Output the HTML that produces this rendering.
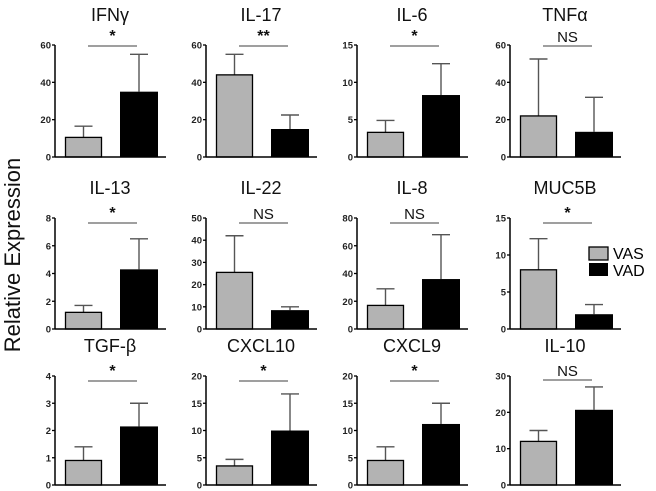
<!DOCTYPE html>
<html><head><meta charset="utf-8"><style>
body{margin:0;background:#fff}
svg{display:block;font-family:"Liberation Sans",Arial,sans-serif}
</style></head><body>
<svg id="c" width="656" height="491" viewBox="0 0 656 491">
<text x="20" y="255" transform="rotate(-90 20 255)" text-anchor="middle" font-size="22" fill="#111">Relative Expression</text>
<g>
<rect x="589" y="247" width="19" height="13" fill="#b3b3b3" stroke="#000" stroke-width="1.3"/>
<text x="613" y="259" font-size="16">VAS</text>
<rect x="589" y="263" width="19" height="13" fill="#000"/>
<text x="613" y="276" font-size="16">VAD</text>
</g>
</svg>
<script>
const titles=["IFNγ","IL-17","IL-6","TNFα","IL-13","IL-22","IL-8","MUC5B","TGF-β","CXCL10","CXCL9","IL-10"];
const yMax=[60,60,15,60,8,50,80,15,4,20,20,30];
const tickStep=[20,20,5,20,2,10,20,5,1,5,5,10];
const vasMean=[10.5,44,3.3,22,1.2,25.5,17,8,0.9,3.5,4.5,12];
const vasErr=[16.5,55,4.9,52.5,1.7,42,29,12.2,1.4,4.7,7,15];
const vadMean=[35,15,8.3,13.5,4.3,8.5,36,2,2.15,10,11.2,20.7];
const vadErr=[55,22.5,12.5,32,6.5,10,68,3.3,3.0,16.7,15,27];
const sig=["*","**","*","NS","*","NS","NS","*","*","*","*","NS"];
const axisX=[55,206,357,510];
const rowTop=[45,218,376];
const rowBase=[157,329,485];
const svg=document.getElementById('c');
const NS='http://www.w3.org/2000/svg';
function mk(t,a,p){const e=document.createElementNS(NS,t);for(const k in a)e.setAttribute(k,a[k]);(p||svg).appendChild(e);return e;}
titles.forEach((t,i)=>{
  const r=Math.floor(i/4),c=i%4,ax=axisX[c],top=rowTop[r],base=rowBase[r];
  const y=v=>base-(v/yMax[i])*(base-top);
  const g=mk('g',{});
  
  
  const tt=mk('text',{x:ax+55,y:top-24,'text-anchor':'middle','font-size':18,fill:'#111'},g);
  tt.textContent=t;
  
  
  [[vasMean[i],vasErr[i],ax+28.5],[vadMean[i],vadErr[i],ax+84]].forEach(([m,e,cx])=>{
    const l=mk('line',{x1:cx,x2:cx,y1:y(m),y2:y(e),stroke:'#555','stroke-width':1.4},g);
    
    
    const cap=mk('line',{x1:cx-9,x2:cx+9,y1:y(e),y2:y(e),stroke:'#555','stroke-width':1.4},g);
    
    
  });
  const b1=mk('rect',{x:ax+10.5,y:y(vasMean[i]),width:36,height:base-y(vasMean[i]),fill:'#b3b3b3',stroke:'#000','stroke-width':1.3},g);
  
  
  const b2=mk('rect',{x:ax+65,y:y(vadMean[i]),width:38,height:base-y(vadMean[i]),fill:'#000'},g);
  
  
  const ya=mk('line',{x1:ax,x2:ax,y1:top,y2:base,stroke:'#000','stroke-width':1.5},g);
  
  
  const xa=mk('line',{x1:ax,x2:ax+111,y1:base,y2:base,stroke:'#000','stroke-width':1.5},g);
  
  
  for(let v=0;v<=yMax[i]+1e-9;v+=tickStep[i]){
    const tk=mk('line',{x1:ax-3,x2:ax,y1:y(v),y2:y(v),stroke:'#000','stroke-width':1.3},g);
    
    
    const tl=mk('text',{x:ax-4,y:y(v)+3.5,'text-anchor':'end','font-size':9.5,'font-weight':'bold',fill:'#222'},g);
    tl.textContent=String(+v.toFixed(2));
    
    
  }
  const sy=top+(r==2&&c==3?4:(r==0?1:5));
  const sl=mk('line',{x1:ax+33,x2:ax+82,y1:sy,y2:sy,stroke:'#666','stroke-width':1.2},g);
  
  
  const st=mk('text',{x:ax+57.5,y:sig[i]=='NS'?sy-4:sy-5,'text-anchor':'middle','font-size':sig[i]=='NS'?15:16,'font-weight':sig[i]=='NS'?'normal':'bold',fill:'#111'},g);
  st.textContent=sig[i];
  
  
});
</script>
</body></html>
